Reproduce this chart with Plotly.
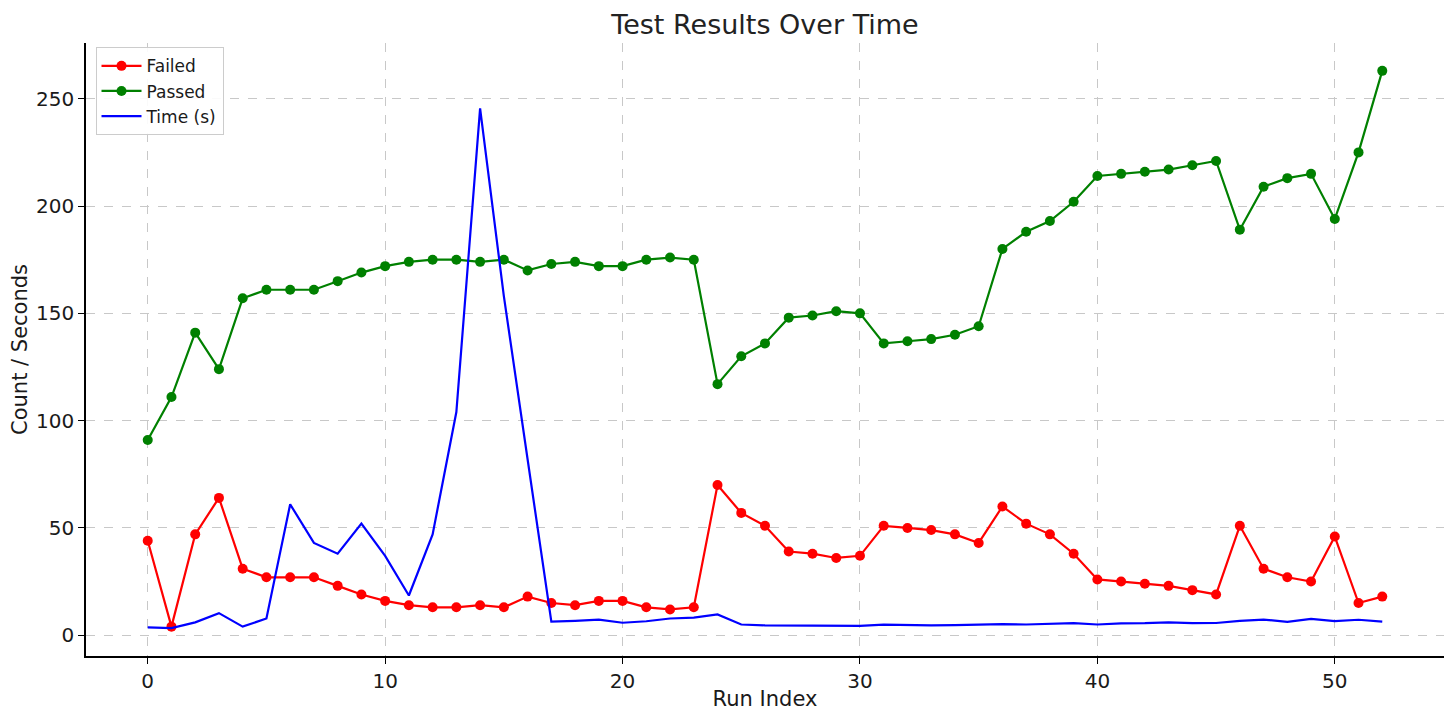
import plotly.graph_objects as go

run_index = list(range(53))
failed = [44, 4, 47, 64, 31, 27, 27, 27, 23, 19, 16, 14, 13, 13, 14, 13, 18, 15, 14, 16,
          16, 13, 12, 13, 70, 57, 51, 39, 38, 36, 37, 51, 50, 49, 47, 43, 60, 52, 47, 38,
          26, 25, 24, 23, 21, 19, 51, 31, 27, 25, 46, 15, 18]
passed = [91, 111, 141, 124, 157, 161, 161, 161, 165, 169, 172, 174, 175, 175, 174, 175, 170, 173, 174, 172,
          172, 175, 176, 175, 117, 130, 136, 148, 149, 151, 150, 136, 137, 138, 140, 144, 180, 188, 193, 202,
          214, 215, 216, 217, 219, 221, 189, 209, 213, 215, 194, 225, 263]
time_s = [3.7, 3.3, 6.0, 10.3, 4.0, 7.8, 61, 43, 38, 52, 37, 18.5, 47, 104, 245.5, 158, 82, 6.3, 6.7, 7.3,
          5.8, 6.5, 7.8, 8.2, 9.7, 5.0, 4.6, 4.5, 4.7, 4.3, 4.4, 4.9, 4.6, 4.6, 4.7, 5.1, 5.2, 5.0, 5.3, 5.6,
          5.0, 5.5, 5.6, 6.0, 5.6, 5.7, 6.7, 7.3, 6.2, 7.6, 6.6, 7.2, 6.3]

FONT = "DejaVu Sans"

fig = go.Figure()
fig.add_trace(go.Scatter(x=run_index, y=failed, name="Failed", mode="lines+markers",
                         line=dict(color="#ff0000", width=2.2), marker=dict(color="#ff0000", size=10)))
fig.add_trace(go.Scatter(x=run_index, y=passed, name="Passed", mode="lines+markers",
                         line=dict(color="#008000", width=2.2), marker=dict(color="#008000", size=10)))
fig.add_trace(go.Scatter(x=run_index, y=time_s, name="Time (s)", mode="lines",
                         line=dict(color="#0000ff", width=2.2)))

allv = failed + passed + time_s
lo, hi = min(allv), max(allv)
pad = (hi - lo) * 0.05
xpad = (max(run_index) - min(run_index)) * 0.05

axis_common = dict(
    showline=True, linecolor="black", linewidth=1.5, mirror=False,
    ticks="outside", ticklen=6, tickwidth=1.3, tickcolor="black",
    showgrid=True, gridcolor="#c8c8c8", griddash="dash", gridwidth=1,
    zeroline=False, automargin=False,
    tickfont=dict(family=FONT, size=20, color="#1a1a1a"),
)

fig.update_layout(
    width=1448, height=714,
    margin=dict(l=78, r=12, t=35, b=66),
    paper_bgcolor="white", plot_bgcolor="white",
    font=dict(family=FONT, color="#1a1a1a"),
    title=dict(text="Test Results Over Time", xref="paper", x=0.5, xanchor="center",
               yref="container", y=0.977, yanchor="middle",
               font=dict(family=FONT, size=27, color="#222222")),
    xaxis=dict(title=dict(text="Run Index", font=dict(family=FONT, size=21), standoff=0),
               range=[min(run_index) - xpad, max(run_index) + xpad],
               tickvals=[0, 10, 20, 30, 40, 50], **axis_common),
    yaxis=dict(title=dict(text="Count / Seconds", font=dict(family=FONT, size=21), standoff=8),
               range=[lo - pad, hi + pad],
               tickvals=[0, 50, 100, 150, 200, 250], **axis_common),
    legend=dict(x=0.007, y=0.993, xanchor="left", yanchor="top",
                bgcolor="rgba(255,255,255,0.9)", bordercolor="#cccccc", borderwidth=1,
                font=dict(family=FONT, size=17, color="#1a1a1a"), itemwidth=40, tracegroupgap=0),
    showlegend=True,
)

fig.write_html("out.html")
